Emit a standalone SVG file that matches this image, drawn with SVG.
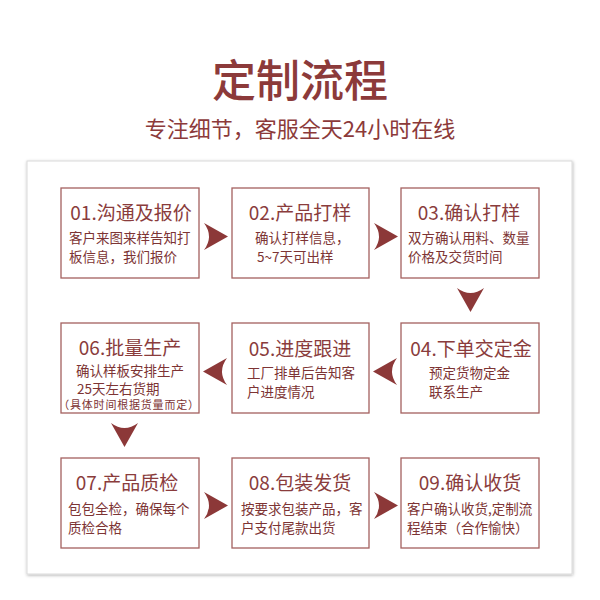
<svg xmlns="http://www.w3.org/2000/svg" width="600" height="600" viewBox="0 0 600 600">
<style>
  .ttl{font-family:"Noto Sans CJK SC","Noto Sans",sans-serif;fill:#8c3a3a;}
  .bt{font-family:"Noto Sans CJK SC","Noto Sans",sans-serif;font-size:19px;fill:#8a3c3c;text-anchor:middle;}
  .bd{font-family:"Noto Sans CJK SC","Noto Sans",sans-serif;font-size:13.5px;fill:#7d3434;}
  .sm{font-size:11px;letter-spacing:0.8px;}
  .box{fill:#ffffff;stroke:#a4605f;stroke-width:1.3;}
  .arr{fill:#8c3838;}
</style>
<defs>
  <filter id="sh" x="-10%" y="-10%" width="120%" height="120%">
    <feDropShadow dx="0.5" dy="1" stdDeviation="1.8" flood-color="#000000" flood-opacity="0.3"/>
  </filter>
  <path id="ar" d="M0,0 L24,13.5 L0,27 Q10,13.5 0,0 Z"/>
</defs>
<rect width="600" height="600" fill="#ffffff"/>
<text class="ttl" x="300" y="97" font-size="44" font-weight="500" text-anchor="middle">定制流程</text>
<text class="ttl" x="300" y="137" font-size="22" text-anchor="middle">专注细节，客服全天24小时在线</text>
<rect x="27" y="161" width="545" height="413" fill="#ffffff" stroke="#dadada" stroke-width="1" filter="url(#sh)"/>

<g id="connectors" class="arr">
  <use href="#ar" transform="translate(204,223)"/>
  <use href="#ar" transform="translate(374,223)"/>
  <use href="#ar" transform="translate(484,288) rotate(90)"/>
  <use href="#ar" transform="translate(397,358) scale(-1,1)"/>
  <use href="#ar" transform="translate(227,358) scale(-1,1)"/>
  <use href="#ar" transform="translate(138,423) rotate(90)"/>
  <use href="#ar" transform="translate(204,492)"/>
  <use href="#ar" transform="translate(374,492)"/>
</g>

<g id="n01">
  <rect class="box" x="61" y="188" width="138" height="90"/>
  <text class="bt" x="131" y="220">01.沟通及报价</text>
  <text class="bd" x="69" y="243">客户来图来样告知打</text>
  <text class="bd" x="69" y="262">板信息，我们报价</text>
</g>
<g id="n02">
  <rect class="box" x="232" y="188" width="137" height="90"/>
  <text class="bt" x="300" y="220">02.产品打样</text>
  <text class="bd" x="255" y="243">确认打样信息，</text>
  <text class="bd" x="257" y="262">5~7天可出样</text>
</g>
<g id="n03">
  <rect class="box" x="401" y="188" width="138" height="90"/>
  <text class="bt" x="469" y="220">03.确认打样</text>
  <text class="bd" x="408" y="243">双方确认用料、数量</text>
  <text class="bd" x="408" y="262">价格及交货时间</text>
</g>
<g id="n04">
  <rect class="box" x="401" y="323" width="138" height="90"/>
  <text class="bt" x="471" y="356">04.下单交定金</text>
  <text class="bd" x="429" y="378">预定货物定金</text>
  <text class="bd" x="429" y="397">联系生产</text>
</g>
<g id="n05">
  <rect class="box" x="232" y="323" width="137" height="90"/>
  <text class="bt" x="300" y="356">05.进度跟进</text>
  <text class="bd" x="247" y="378">工厂排单后告知客</text>
  <text class="bd" x="247" y="397">户进度情况</text>
</g>
<g id="n06">
  <rect class="box" x="61" y="323" width="138" height="90"/>
  <text class="bt" x="130" y="355">06.批量生产</text>
  <text class="bd" x="130" y="375.5" text-anchor="middle">确认样板安排生产</text>
  <text class="bd" x="77" y="393.5">25天左右货期</text>
  <text class="bd sm" x="129" y="408.5" text-anchor="middle">（具体时间根据货量而定）</text>
</g>
<g id="n07">
  <rect class="box" x="61" y="458" width="138" height="90"/>
  <text class="bt" x="127" y="490">07.产品质检</text>
  <text class="bd" x="68" y="514">包包全检，确保每个</text>
  <text class="bd" x="68" y="533">质检合格</text>
</g>
<g id="n08">
  <rect class="box" x="232" y="458" width="137" height="90"/>
  <text class="bt" x="300" y="490">08.包装发货</text>
  <text class="bd" x="241" y="514">按要求包装产品，客</text>
  <text class="bd" x="241" y="533">户支付尾款出货</text>
</g>
<g id="n09">
  <rect class="box" x="401" y="458" width="138" height="90"/>
  <text class="bt" x="470" y="490">09.确认收货</text>
  <text class="bd" x="407" y="514">客户确认收货,定制流</text>
  <text class="bd" x="407" y="533">程结束（合作愉快）</text>
</g>
</svg>
